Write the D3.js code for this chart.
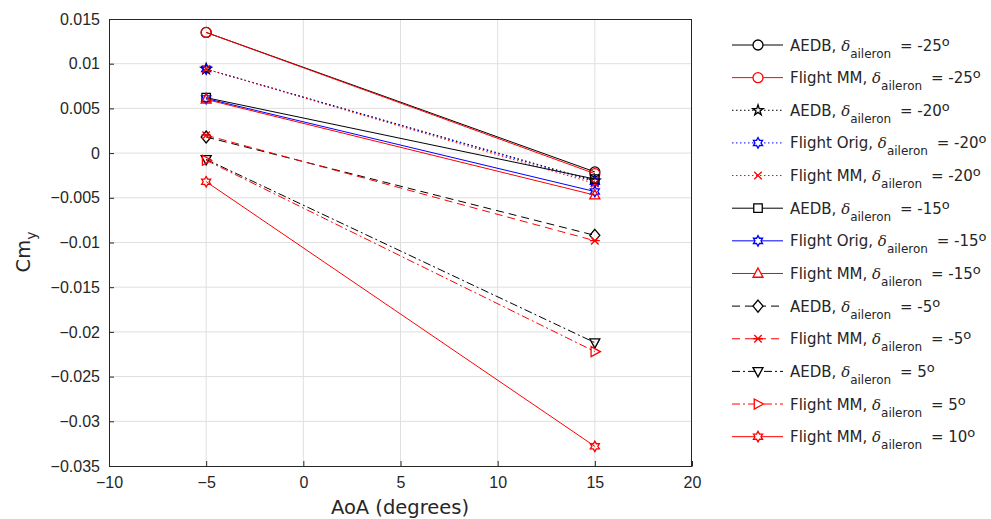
<!DOCTYPE html>
<meta charset="utf-8">
<style>
body { margin: 0; background: #fff; font-family: "DejaVu Sans", sans-serif; }
text { fill: #262626; }
.grid line { stroke: #dfdfdf; stroke-width: 1; }
.axis path, .axis line { stroke: #262626; }
</style>
<body>
<script src="https://cdn.jsdelivr.net/npm/d3@7"></script>
<script>

var aoa = [-5, 15];

var seriesSource = ["AEDB", "Flight MM", "AEDB", "Flight Orig", "Flight MM", "AEDB", "Flight Orig", "Flight MM", "AEDB", "Flight MM", "AEDB", "Flight MM", "Flight MM"];
var seriesAileron = ["-25", "-25", "-20", "-20", "-20", "-15", "-15", "-15", "-5", "-5", "5", "5", "10"];
var seriesValues = [
    [0.0135, -0.0021],
    [0.0135, -0.0023],
    [0.0094, -0.0031],
    [0.0094, -0.0032],
    [0.0094, -0.0034],
    [0.0062, -0.0029],
    [0.0061, -0.0043],
    [0.0060, -0.0047],
    [0.0018, -0.0092],
    [0.0020, -0.0098],
    [-0.0007, -0.0212],
    [-0.0008, -0.0222],
    [-0.0032, -0.0328]
];
var seriesColor = ["#000", "#ff0000", "#000", "#0000ff", "#ff0000", "#000", "#0000ff", "#ff0000", "#000", "#ff0000", "#000", "#ff0000", "#ff0000"];
var seriesDash = ["", "", "1.5,2.5", "1.5,2.5", "1.5,2.5", "", "", "", "8,5", "8,5", "8,3,2,3", "8,3,2,3", ""];
var seriesMarker = ["circle", "circle", "pentagram", "hexagram", "x", "square", "hexagram", "triangle", "diamond", "asterisk", "triangledown", "triangleright", "hexagram"];

var xTicks = [-10, -5, 0, 5, 10, 15, 20];
var yTicks = [0.015, 0.01, 0.005, 0, -0.005, -0.01, -0.015, -0.02, -0.025, -0.03, -0.035];

var width = 991, height = 519;
var plot = {left: 109, right: 692, top: 19, bottom: 466};

var svg = d3.select("body").append("svg")
    .attr("width", width)
    .attr("height", height);

var x = d3.scaleLinear().domain([-10, 20]).range([plot.left, plot.right]);
var y = d3.scaleLinear().domain([-0.035, 0.015]).range([plot.bottom, plot.top]);

// marker paths, centered at 0,0
function markerPath(type, r) {
    var p = d3.path(), i, a;
    if (type === "circle") {
        p.arc(0, 0, r, 0, 2 * Math.PI);
    } else if (type === "square") {
        var s = r * 0.85;
        p.rect(-s, -s, 2 * s, 2 * s);
    } else if (type === "diamond") {
        p.moveTo(0, -r * 1.2); p.lineTo(r, 0); p.lineTo(0, r * 1.2); p.lineTo(-r, 0); p.closePath();
    } else if (type === "triangle") {
        p.moveTo(0, -r * 1.1); p.lineTo(r, r * 0.75); p.lineTo(-r, r * 0.75); p.closePath();
    } else if (type === "triangledown") {
        p.moveTo(0, r * 1.1); p.lineTo(r, -r * 0.75); p.lineTo(-r, -r * 0.75); p.closePath();
    } else if (type === "triangleright") {
        p.moveTo(r * 1.1, 0); p.lineTo(-r * 0.75, r); p.lineTo(-r * 0.75, -r); p.closePath();
    } else if (type === "x") {
        var k = r * 0.75;
        p.moveTo(-k, -k); p.lineTo(k, k); p.moveTo(-k, k); p.lineTo(k, -k);
    } else if (type === "asterisk") {
        var k2 = r * 0.75;
        p.moveTo(-k2, -k2); p.lineTo(k2, k2); p.moveTo(-k2, k2); p.lineTo(k2, -k2);
        p.moveTo(-r, 0); p.lineTo(r, 0);
    } else if (type === "pentagram") {
        for (i = 0; i < 10; i++) {
            a = -Math.PI / 2 + i * Math.PI / 5;
            var rr = i % 2 ? r * 0.42 : r * 1.1;
            if (i === 0) p.moveTo(rr * Math.cos(a), rr * Math.sin(a)); else p.lineTo(rr * Math.cos(a), rr * Math.sin(a));
        }
        p.closePath();
    } else if (type === "hexagram") {
        for (i = 0; i < 12; i++) {
            a = -Math.PI / 2 + i * Math.PI / 6;
            var rh = i % 2 ? r * 0.6 : r * 1.05;
            if (i === 0) p.moveTo(rh * Math.cos(a), rh * Math.sin(a)); else p.lineTo(rh * Math.cos(a), rh * Math.sin(a));
        }
        p.closePath();
    }
    return p.toString();
}

// grid
var grid = svg.append("g").attr("class", "grid");
grid.selectAll(".gx").data(xTicks.slice(1, -1)).enter().append("line")
    .attr("x1", function(d) { return x(d); }).attr("x2", function(d) { return x(d); })
    .attr("y1", plot.top).attr("y2", plot.bottom);
grid.selectAll(".gy").data(yTicks.slice(1, -1)).enter().append("line")
    .attr("y1", function(d) { return y(d); }).attr("y2", function(d) { return y(d); })
    .attr("x1", plot.left).attr("x2", plot.right);

// axes
var xAxis = d3.axisBottom(x).tickValues(xTicks).tickSizeInner(-5).tickSizeOuter(0).tickPadding(11)
    .tickFormat(d3.format("d"));
var yAxis = d3.axisLeft(y).tickValues(yTicks).tickSizeInner(-5).tickSizeOuter(0).tickPadding(9)
    .tickFormat(function(d) { return d === 0 ? "0" : d3.format("")(+d.toFixed(3)); });

svg.append("g").attr("class", "axis")
    .attr("transform", "translate(0," + plot.bottom + ")")
    .call(xAxis)
    .call(function(g) { g.selectAll("text").style("font-size", "16px").attr("fill", "#262626"); });

svg.append("g").attr("class", "axis")
    .attr("transform", "translate(" + plot.left + ",0)")
    .call(yAxis)
    .call(function(g) { g.selectAll("text").style("font-size", "16px").attr("fill", "#262626"); });

// top and right box lines
svg.append("line").attr("x1", plot.left).attr("x2", plot.right).attr("y1", plot.top + 0.5).attr("y2", plot.top + 0.5)
    .attr("stroke", "#262626");
svg.append("line").attr("x1", plot.right - 0.5).attr("x2", plot.right - 0.5).attr("y1", plot.top).attr("y2", plot.bottom)
    .attr("stroke", "#262626");

// axis labels
svg.append("text").attr("x", 400).attr("y", 514)
    .attr("text-anchor", "middle").style("font-size", "19.5px").text("AoA (degrees)");

var ylab = svg.append("text")
    .attr("transform", "translate(30,252) rotate(-90)")
    .attr("text-anchor", "middle").style("font-size", "19.5px");
ylab.append("tspan").text("Cm");
ylab.append("tspan").attr("dy", 6).style("font-size", "14px").text("y");

// series
var idx = d3.range(seriesValues.length);
var line = d3.line().x(function(d) { return x(d[0]); }).y(function(d) { return y(d[1]); });

var series = svg.append("g").selectAll("g").data(idx).enter().append("g");

series.append("path")
    .attr("d", function(i) { return line(aoa.map(function(a, j) { return [a, seriesValues[i][j]]; })); })
    .attr("fill", "none")
    .attr("stroke", function(i) { return seriesColor[i]; })
    .attr("stroke-width", 1)
    .attr("stroke-dasharray", function(i) { return seriesDash[i] || null; });

series.selectAll(".m").data(function(i) { return aoa.map(function(a, j) { return {i: i, a: a, v: seriesValues[i][j]}; }); })
    .enter().append("path")
    .attr("transform", function(d) { return "translate(" + x(d.a) + "," + y(d.v) + ")"; })
    .attr("d", function(d) { return markerPath(seriesMarker[d.i], 5); })
    .attr("fill", "none")
    .attr("stroke", function(d) { return seriesColor[d.i]; })
    .attr("stroke-width", 1.3);

// legend
var legend = svg.append("g");
var row = legend.selectAll("g").data(idx).enter().append("g")
    .attr("transform", function(i) { return "translate(0," + (45 + i * 32.64) + ")"; });

row.append("line")
    .attr("x1", 732).attr("x2", 783).attr("y1", 0).attr("y2", 0)
    .attr("stroke", function(i) { return seriesColor[i]; })
    .attr("stroke-dasharray", function(i) { return seriesDash[i] || null; });
row.append("path")
    .attr("transform", "translate(758,0)")
    .attr("d", function(i) { return markerPath(seriesMarker[i], 5); })
    .attr("fill", "#fff")
    .attr("stroke", function(i) { return seriesColor[i]; })
    .attr("stroke-width", 1.3);

var label = row.append("text").attr("x", 790).attr("y", 5.5).style("font-size", "15px");
label.append("tspan").text(function(i) { return seriesSource[i] + ", "; });
label.append("tspan").style("font-family", "DejaVu Serif").style("font-style", "italic").text("δ");
label.append("tspan").attr("dy", 7).style("font-size", "12px").text("aileron");
label.append("tspan").attr("dy", -7).attr("dx", 4).text(function(i) { return " = " + seriesAileron[i]; });
label.append("tspan").attr("dy", -5).style("font-size", "13px").text("o");

</script>
</body>
